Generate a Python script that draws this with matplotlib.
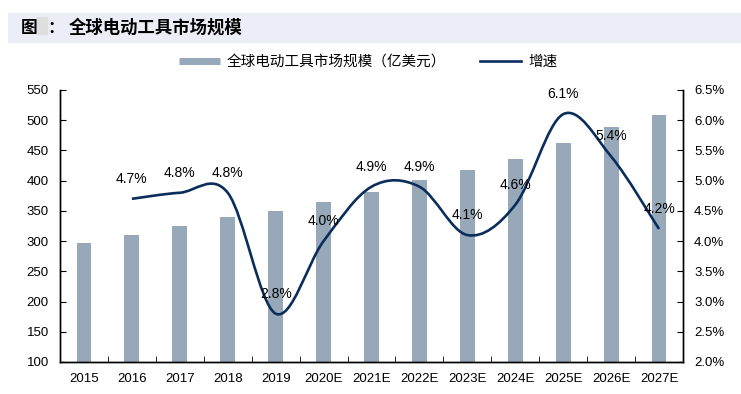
import matplotlib
matplotlib.use("Agg")
import matplotlib.pyplot as plt
from matplotlib.path import Path
from matplotlib.patches import PathPatch, Rectangle
from matplotlib.lines import Line2D
from matplotlib.ticker import FuncFormatter

plt.rcParams['font.family'] = ['Liberation Sans', 'Noto Sans CJK SC', 'DejaVu Sans']

years = ["2015", "2016", "2017", "2018", "2019", "2020E", "2021E",
         "2022E", "2023E", "2024E", "2025E", "2026E", "2027E"]
market_size = [297, 310, 325, 340, 350, 364, 382, 401, 418, 436, 463, 488, 509]
growth_years = years[1:]
growth = [4.7, 4.8, 4.8, 2.8, 4.0, 4.9, 4.9, 4.1, 4.6, 6.1, 5.4, 4.2]
growth_labels = ["4.7%", "4.8%", "4.8%", "2.8%", "4.0%", "4.9%", "4.9%",
                 "4.1%", "4.6%", "6.1%", "5.4%", "4.2%"]

bar_color = "#97a9b9"
line_color = "#0b2d5b"
cjk = ["Noto Sans CJK SC", "DejaVu Sans"]

W, H = 741, 394
fig = plt.figure(figsize=(W / 100, H / 100), dpi=100)

# title band
fig.patches.append(Rectangle((8 / W, 1 - 42 / H), 733 / W, 29 / H,
                             transform=fig.transFigure, color="#eceef7", zorder=0))
fig.patches.append(Rectangle((37 / W, 1 - 34 / H), 10 / W, 17 / H,
                             transform=fig.transFigure, color="#dedede", zorder=1))
fig.text(21 / W, 1 - 27.5 / H, "图", family=cjk, fontsize=12, fontweight="bold", va="center")
fig.text(47 / W, 1 - 27.5 / H, "：", family=cjk, fontsize=12, fontweight="bold", va="center")
fig.text(69 / W, 1 - 27.5 / H, "全球电动工具市场规模", family=cjk, fontsize=12.5,
         fontweight="bold", va="center")

ax = fig.add_axes([60 / W, 1 - 362 / H, 623 / W, 272 / H])
ax2 = ax.twinx()

x = list(range(len(years)))
ax.bar(x, market_size, width=0.31, color=bar_color, zorder=2)
ax.set_xlim(-0.5, len(years) - 0.5)
ax.set_ylim(100, 550)
ax.set_yticks(range(100, 551, 50))
ax.set_xticks(x)
ax.set_xticklabels(years, fontsize=9.5)
ax.set_xticks([i + 0.5 for i in x[:-1]], minor=True)
ax.tick_params(axis="x", which="major", length=0, pad=8)
ax.tick_params(axis="x", which="minor", direction="in", length=4)
ax.tick_params(axis="y", direction="in", length=4, labelsize=9.5, pad=8)

ax2.set_ylim(2.0, 6.5)
ax2.set_yticks([2.0 + 0.5 * i for i in range(10)])
ax2.yaxis.set_major_formatter(FuncFormatter(lambda v, _: f"{v:.1f}%"))
ax2.tick_params(axis="y", direction="in", length=4, labelsize=9.5, pad=8)

for a in (ax, ax2):
    a.spines["top"].set_visible(False)
    for s in ("left", "right", "bottom"):
        a.spines[s].set_linewidth(1.0)

# smoothed growth line (Catmull-Rom style Bezier, as in Excel)
gx = [years.index(y) for y in growth_years]
pts = list(zip(gx, growth))
verts = [pts[0]]
codes = [Path.MOVETO]
n = len(pts)
for i in range(n - 1):
    p0 = pts[max(i - 1, 0)]
    p1 = pts[i]
    p2 = pts[i + 1]
    p3 = pts[min(i + 2, n - 1)]
    c1 = (p1[0] + (p2[0] - p0[0]) / 6, p1[1] + (p2[1] - p0[1]) / 6)
    c2 = (p2[0] - (p3[0] - p1[0]) / 6, p2[1] - (p3[1] - p1[1]) / 6)
    verts += [c1, c2, p2]
    codes += [Path.CURVE4] * 3
ax2.add_patch(PathPatch(Path(verts, codes), fill=False, edgecolor=line_color,
                        linewidth=1.9, zorder=3))

for xi, v, lab in zip(gx, growth, growth_labels):
    ax2.annotate(lab, (xi, v), xytext=(0, 14.5), textcoords="offset points",
                 ha="center", va="center", fontsize=10, zorder=4)

handles = [Line2D([], [], color=bar_color, linewidth=5, solid_capstyle="butt"),
           Line2D([], [], color=line_color, linewidth=1.9)]
fig.legend(handles, ["全球电动工具市场规模（亿美元）", "增速"], loc="center",
           bbox_to_anchor=(368 / W, 1 - 62 / H), ncol=2, frameon=False,
           prop={"family": cjk, "size": 10.5}, handlelength=2.8, columnspacing=2.3,
           handletextpad=0.5)

fig.savefig("out.png", dpi=100)
